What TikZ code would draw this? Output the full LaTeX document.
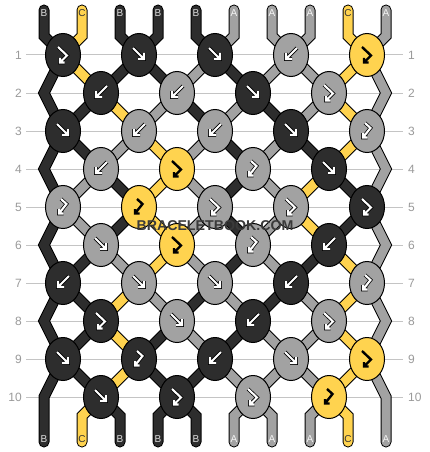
\documentclass[tikz,border=0pt]{standalone}
\usepackage{fontspec}
\setmainfont{Liberation Sans}
\usetikzlibrary{shapes.geometric}
\definecolor{colB}{HTML}{2D2D2D}
\definecolor{colA}{HTML}{A2A2A2}
\definecolor{colC}{HTML}{FFD34F}
\definecolor{rowcol}{HTML}{C4C4C4}
\definecolor{numcol}{HTML}{9A9A9A}
\definecolor{lblB}{HTML}{DDDDDD}
\definecolor{lblA}{HTML}{F4F4F4}
\definecolor{lblC}{HTML}{333333}
\definecolor{wmcol}{HTML}{3A3A3A}
% arrow glyphs (relative to knot centre, y downwards)
\def\apf{(-6,-7) -- (5,4) (5,-2) -- (5,4) -- (-1,4)}
\def\apb{(6,-7) -- (-5,4) (-5,-2) -- (-5,4) -- (1,4)}
\def\apfb{(-5,-8) -- (4,0.5) -- (-3,7.5) (-3,3) -- (-3,7.5) -- (1.5,7.5)}
\def\apbf{(-2,-8) -- (3.5,-3) -- (-4,6.5) (-4,2) -- (-4,6.5) -- (0.5,6.5)}
\def\letterC{C}
\newcommand\knotarrow[3]{%
  \expandafter\let\expandafter\curpath\csname ap#2\endcsname
  \edef\kty{#3}%
  \begin{scope}[shift={(#1)}]
    \ifx\kty\letterC
      \draw[arrowline, line width=2.4pt, black] \curpath;
    \else
      \draw[arrowline, line width=3.6pt, black] \curpath;
      \draw[arrowline, line width=2.1pt, white] \curpath;
    \fi
  \end{scope}}
\begin{document}
\begin{tikzpicture}[x=1pt, y=-1pt,
  strand/.style={line width=1pt, draw=black, double=#1, double distance=9pt, line cap=round, line join=miter},
  knot/.style={ellipse, draw=black, line width=1pt, fill=#1, minimum width=35pt, minimum height=43pt, inner sep=0pt},
  rowline/.style={draw=rowcol, line width=1pt},
  rownum/.style={text=numcol, font=\fontsize{12}{12}\selectfont, inner sep=0pt},
  lbl/.style={font=\fontsize{10}{10}\selectfont, inner sep=0pt, text=lbl#1},
  arrowline/.style={line cap=butt, line join=miter},
  wm/.style={font=\bfseries\fontsize{14.2}{14.2}\selectfont, inner sep=0pt}]
\useasboundingbox[fill=white] (0,0) rectangle (430,452);

% row guide lines and numbers
\foreach \r in {1,...,10} {
  \pgfmathsetmacro\yy{55+38*(\r-1)}
  \draw[rowline] (26,\yy) -- (403,\yy);
  \node[rownum, anchor=east] (ln-\r) at (22,\yy) {\r};
  \node[rownum, anchor=west] (rn-\r) at (408,\yy) {\r};
}

% knot centres
\foreach \r in {1,3,5,7,9} {
  \foreach \kc in {0,...,4} {
    \coordinate (k-\r-\kc) at ({63+76*\kc},{55+38*(\r-1)});
  }
  \foreach \ii in {0,...,9} {
    \pgfmathtruncatemacro\kk{int(\ii/2)}
    \coordinate (p-\r-\ii) at (k-\r-\kk);
  }
}
\foreach \r in {2,4,6,8,10} {
  \foreach \kc in {0,...,3} {
    \coordinate (k-\r-\kc) at ({101+76*\kc},{55+38*(\r-1)});
  }
  \coordinate (e-\r-L) at (44,{55+38*(\r-1)});
  \coordinate (e-\r-R) at (386,{55+38*(\r-1)});
  \coordinate (p-\r-0) at (e-\r-L);
  \coordinate (p-\r-9) at (e-\r-R);
  \foreach \ii in {1,...,8} {
    \pgfmathtruncatemacro\kk{int((\ii-1)/2)}
    \coordinate (p-\r-\ii) at (k-\r-\kk);
  }
}
% string ends
\foreach \ii in {0,...,9} {
  \coordinate (t-\ii) at ({44+38*\ii},10);
  \coordinate (tb-\ii) at ({44+38*\ii},36);
  \coordinate (bb-\ii) at ({44+38*\ii},416);
  \coordinate (b-\ii) at ({44+38*\ii},442);
}

% edge strings
\draw[strand=colB] (t-0) -- (tb-0) -- (k-1-0) -- (e-2-L) -- (k-3-0) -- (e-4-L) -- (k-5-0) -- (e-6-L) -- (k-7-0) -- (e-8-L) -- (k-9-0) -- (e-10-L) -- (b-0);
\draw[strand=colA] (t-9) -- (tb-9) -- (k-1-4) -- (e-2-R) -- (k-3-4) -- (e-4-R) -- (k-5-4) -- (e-6-R) -- (k-7-4) -- (e-8-R) -- (k-9-4) -- (e-10-R) -- (b-9);

% top strings
\foreach \s [count=\ii from 0] in {B,C,B,B,B,A,A,A,C,A} {
  \ifnum\ii>0 \ifnum\ii<9
    \pgfmathtruncatemacro\kk{int(\ii/2)}
    \draw[strand=col\s] (t-\ii) -- (tb-\ii) -- (k-1-\kk);
  \fi\fi
}
% bottom strings
\foreach \s [count=\ii from 0] in {B,C,B,B,B,A,A,A,C,A} {
  \ifnum\ii>0 \ifnum\ii<9
    \pgfmathtruncatemacro\kk{int((\ii-1)/2)}
    \draw[strand=col\s] (k-10-\kk) -- (bb-\ii) -- (b-\ii);
  \fi\fi
}
% strings between rows
\foreach \r/\st in {1/{B,C,B,B,A,B,A,A,C,A}, 2/{B,B,C,A,B,A,B,A,C,A}, 3/{B,B,A,C,A,B,A,B,C,A}, 4/{B,A,B,C,A,B,A,C,B,A}, 5/{B,A,B,C,A,B,A,C,B,A}, 6/{B,B,A,C,A,B,A,B,C,A}, 7/{B,B,C,A,B,A,B,A,C,A}, 8/{B,B,C,B,A,B,A,A,C,A}, 9/{B,B,C,B,B,A,A,A,C,A}} {
  \pgfmathtruncatemacro\rr{\r+1}
  \foreach \s [count=\ii from 0] in \st {
    \ifnum\ii>0 \ifnum\ii<9
      \draw[strand=col\s] (p-\r-\ii) -- (p-\rr-\ii);
    \fi\fi
  }
}

% knots
\foreach \r/\ks in {1/{fb/B,f/B,f/B,b/A,fb/C}, 2/{b/B,b/A,f/B,fb/A}, 3/{f/B,b/A,b/A,f/B,bf/A}, 4/{b/A,fb/C,bf/A,f/B}, 5/{bf/A,bf/C,fb/A,fb/A,fb/B}, 6/{f/A,fb/C,bf/A,b/B}, 7/{b/B,f/A,f/A,b/B,bf/A}, 8/{fb/B,f/A,b/B,fb/A}, 9/{f/B,bf/B,b/B,f/A,fb/C}, 10/{f/B,fb/B,fb/A,bf/C}} {
  \foreach \ty/\cc [count=\kc from 0] in \ks {
    \node[knot=col\cc] (n-\r-\kc) at (k-\r-\kc) {};
    \knotarrow{k-\r-\kc}{\ty}{\cc}
  }
}

% string labels
\foreach \s [count=\ii from 0] in {B,C,B,B,B,A,A,A,C,A} {
  \node[lbl=\s] (tl-\ii) at ({44+38*\ii},13) {\s};
  \node[lbl=\s] (bl-\ii) at ({44+38*\ii},439.5) {\s};
}

% watermark
\node[wm, text=wmcol] (wm) at (215,225.5) {BRACELETBOOK.COM};
\end{tikzpicture}
\end{document}
